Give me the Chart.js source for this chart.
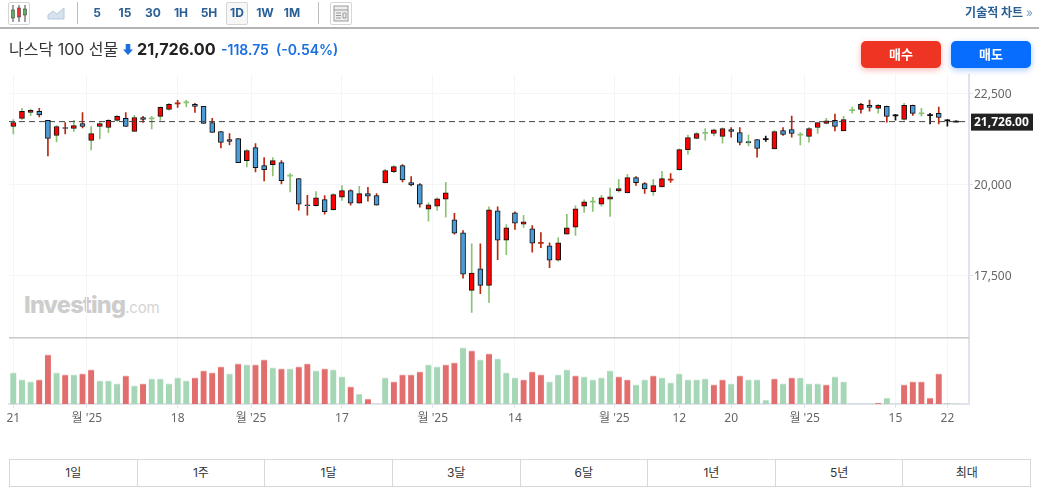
<!DOCTYPE html>
<html>
<head>
<meta charset="utf-8">
<script src="https://cdn.jsdelivr.net/npm/chart.js@4"></script>
<style>
html,body{margin:0;padding:0;background:#fff;overflow:hidden}
body{width:1039px;height:497px;position:relative;font-family:Inter,"Noto Sans CJK KR",sans-serif;color:#333}
#chart{position:absolute;left:0;top:0}
.abs{position:absolute;white-space:nowrap}
.bar{position:absolute;left:0;top:0;width:1039px;height:27px;border-bottom:2px solid #b4b4b4}
.sep{position:absolute;top:2px;width:1px;height:22px;background:#bdbdbd}
.iv{position:absolute;top:5px;width:24px;text-align:center;font-size:12px;font-weight:700;color:#2a5f95;line-height:16px}
.iconbox{position:absolute;top:2px;height:21px;border:1px solid #d6d6d6;border-radius:2px;box-sizing:content-box}
.btn{position:absolute;top:41px;width:80px;height:27px;border-radius:5px;color:#fff;font-size:13px;font-weight:700;text-align:center;line-height:27px}
#periods{position:absolute;left:9px;top:459px;width:1022px;height:28px;border:1px solid #d8d8d8;box-sizing:border-box;display:flex}
#periods div{flex:1;border-left:1px solid #d8d8d8;text-align:center;font-size:12px;line-height:26px;color:#333}
#periods div:first-child{border-left:0}
</style>
</head>
<body>
<div class="abs" style="left:24px;top:288px;color:#cdcdcd;font:800 23.5px Inter,sans-serif;letter-spacing:-.8px;line-height:34px">Investing<span style="font-weight:400;font-size:15px;letter-spacing:-.2px;color:#d4d4d4">.com</span></div>
<canvas id="chart" width="1039" height="440"></canvas>

<div class="bar">
  <div class="iconbox" style="left:8px;width:20px">
    <svg width="20" height="21" viewBox="0 0 20 21"><path d="M4 2v17M10 2v17M16 2v17" stroke="#444" stroke-width="1"/><rect x="2.5" y="7" width="3" height="8" fill="#5cb25c" stroke="#444" stroke-width=".6"/><rect x="8.5" y="5" width="3" height="9" fill="#e33" stroke="#444" stroke-width=".6"/><rect x="14.5" y="6" width="3" height="6" fill="#5cb25c" stroke="#444" stroke-width=".6"/></svg>
  </div>
  <svg class="abs" style="left:47px;top:6px" width="18" height="14" viewBox="0 0 18 14"><path d="M1 9L6 5l4 3 7-6v11H1z" fill="#d6e3ef" stroke="#b3c9dd" stroke-width="1"/></svg>
  <div class="sep" style="left:77px"></div>
  <div class="iv" style="left:85px">5</div>
  <div class="iv" style="left:113px">15</div>
  <div class="iv" style="left:141px">30</div>
  <div class="iv" style="left:169px">1H</div>
  <div class="iv" style="left:197px">5H</div>
  <div class="iconbox" style="left:226px;width:20px;background:#f7f7f7"></div>
  <div class="iv" style="left:225px">1D</div>
  <div class="iv" style="left:253px">1W</div>
  <div class="iv" style="left:280px">1M</div>
  <div class="sep" style="left:318px"></div>
  <div class="iconbox" style="left:330px;width:20px">
    <svg width="20" height="21" viewBox="0 0 20 21"><rect x="3" y="3" width="14" height="15" fill="#eee" stroke="#999"/><path d="M3 7h14M5 10h5M5 12.500h5M5 15h5M12 10h3v5h-3z" stroke="#999" fill="none"/></svg>
  </div>
  <div class="abs" style="right:6px;top:5px;font-size:12px;font-weight:700;color:#2a5f95;line-height:16px">기술적 차트 <span style="font-weight:400;color:#7f9cc0">»</span></div>
</div>

<div class="abs" style="left:9px;top:39px;font-size:16px;line-height:20px;color:#333">나스닥 100 선물</div>
<svg class="abs" style="left:123px;top:44px" width="10" height="11" viewBox="0 0 11 12"><path d="M3 0h5v6h3l-5.500 6L0 6h3z" fill="#1a6fe0"/></svg>
<div class="abs" style="left:137px;top:38px;font-size:16.2px;font-weight:700;line-height:22px;color:#222">21,726.00</div>
<div class="abs" style="left:221px;top:41px;font-size:14px;font-weight:600;line-height:18px;color:#1a6fe0">-118.75</div>
<div class="abs" style="left:276px;top:41px;font-size:14px;font-weight:600;line-height:18px;color:#1a6fe0">(-0.54%)</div>
<div class="btn" style="left:861px;background:#ee3524;box-shadow:0 2px 6px rgba(238,53,36,.35)">매수</div>
<div class="btn" style="left:951px;background:#066dff;box-shadow:0 2px 6px rgba(6,109,255,.35)">매도</div>

<div id="periods"><div>1일</div><div>1주</div><div>1달</div><div>3달</div><div>6달</div><div>1년</div><div>5년</div><div>최대</div></div>

<script>
// prices, one entry per session
const opens = [21593,21813,21977,22005,21758,21346,21565,21538,21675,21208,21593,21565,21758,21813,21456,21840,21813,21868,22060,22225,22252,22197,22142,21703,21456,21236,21263,20659,21016,20522,20549,20604,20247,20164,19450,19423,19588,19313,19660,19834,19495,19752,19697,20045,20356,20521,20054,19999,19330,19413,19605,19037,18680,17105,17691,17243,19285,18479,19230,18918,18790,18406,18323,17929,18644,18836,19413,19532,19468,19605,19825,19770,20191,20026,19807,19935,20137,20412,20961,21263,21419,21401,21318,21510,21428,21181,21236,21245,20979,21483,21510,21373,21318,21565,21675,21758,21474,22042,22060,22170,22087,22142,21895,21785,22170,21950,21904,21950,21758,21726];
const highs = [21785,22087,22069,22087,21758,21620,21703,21758,21977,21593,21703,21785,21895,21977,21895,21868,21868,22133,22225,22307,22307,22225,22142,21813,21456,21401,21263,20961,21126,20741,20741,20659,20302,20164,19707,19807,19697,19752,19971,19861,19953,19926,19752,20420,20521,20548,20219,20026,19504,19642,20063,19211,18744,18378,18378,19394,19394,18909,19257,19156,18882,18689,18406,18552,19184,19422,19587,19651,19706,19907,20145,20283,20219,20054,20145,20365,20302,20979,21355,21428,21538,21520,21556,21565,21565,21355,21236,21327,21483,21565,21877,21428,21565,21703,21813,21932,21868,22124,22225,22316,22197,22151,21923,22225,22179,22087,21950,22124,21785,21749];
const lows = [21391,21785,21886,21858,20787,21172,21391,21456,21556,20952,21254,21428,21730,21593,21456,21703,21529,21758,22042,22115,22133,21977,21675,21428,21007,21089,20604,20485,20348,20100,20238,20018,19798,19304,19166,19413,19194,19304,19568,19440,19495,19550,19440,20045,20328,20072,19962,19385,19001,19294,19111,18644,17435,16501,17014,16776,17948,18085,18772,18827,18149,18277,17728,17902,18644,18607,19239,19266,19413,19129,19797,19770,19981,19761,19706,19935,20064,20393,20833,21254,21217,21336,21135,21300,21089,21062,20750,21181,20979,21346,21300,21089,21163,21401,21666,21474,21474,21959,21959,22014,21959,21712,21767,21767,21895,21877,21666,21666,21602,21726];
const closes = [21703,22005,22032,21913,21263,21593,21538,21620,21593,21401,21675,21758,21868,21593,21840,21785,21813,22115,22197,22225,22252,22142,21675,21428,21153,21181,20604,20934,20467,20412,20659,20109,20247,19468,19423,19642,19258,19725,19834,19495,19752,19687,19440,20383,20493,20127,19990,19468,19449,19614,19779,18671,17545,17581,17243,19312,18479,18818,18946,18982,18396,18406,17929,18406,18818,19340,19532,19532,19642,19669,19889,20191,20054,19880,19971,20164,20137,20961,21291,21401,21419,21501,21538,21456,21153,21144,20989,21245,21456,21373,21401,21373,21538,21703,21749,21593,21785,22042,22197,22115,22170,21868,21895,22170,21950,21950,21904,21840,21758,21726];
// wick colour of each session: g, r or k
const wickSides = "gggrrgrgrggggrgrgggrgrrrrrrgrrgrgrrgrggrgrrggrrrgggrrgrgrgrgrrrgggggggggrrggrggggggrrgrkgrrggggrggrrgrkgrgkrkk".split("");
const volumes = [93,72,66,72,147,93,87,87,90,102,69,69,60,84,54,60,75,75,60,78,69,78,99,93,111,90,120,117,117,132,108,105,105,111,120,99,105,102,81,51,30,15,0,78,66,87,87,96,117,111,117,123,168,159,132,150,135,93,78,72,96,87,66,87,102,84,81,72,78,99,81,72,57,72,84,78,63,90,72,72,75,57,72,60,84,72,72,12,75,60,78,78,60,60,57,81,66,0,0,0,3,18,0,57,66,66,18,90,3,0];
const volumeSides = "gggrrgrgrrgggrgrgggggrrrrgrgrrgrgrrgrggrgrggrrrrggrrgrgrgggrrrgggrggggrrggrggggggrrgrgggrgrgggrg".split("").concat("g,g,g,g,r,g,g,r,r,r,r,r,g".split(","));
const lastClose = 21726;
const priceTicks = [17500, 20000, 22500];
const tickSpots = [0, 8.5, 19, 27.5, 38, 48.5, 58, 69.5, 77, 83, 91.5, 102, 108];
const tickLabels = ["21", "월 '25", "18", "월 '25", "17", "월 '25", "14", "월 '25", "12", "20", "월 '25", "15", "22"];

const WICK = {g: "#8cc274", r: "#b8290f", k: "#111111"};
const FONT = "'Noto Sans','Noto Sans CJK KR',sans-serif";
const sessions = closes.map((c, i) => i);
const isDoji = i => opens[i] === closes[i];

const lastPrice = {
    id: "lastPrice",
    afterDraw(chart) {
        const {ctx, chartArea, scales} = chart;
        const y = scales.y.getPixelForValue(lastClose);
        ctx.save();
        ctx.strokeStyle = "#c8c8c8";
        ctx.lineWidth = 1.5;
        ctx.beginPath();
        ctx.moveTo(chartArea.left, scales.yVol.top);
        ctx.lineTo(chartArea.right, scales.yVol.top);
        ctx.stroke();
        ctx.strokeStyle = "#444";
        ctx.lineWidth = 1;
        ctx.setLineDash([6, 4]);
        ctx.beginPath();
        ctx.moveTo(chartArea.left, y);
        ctx.lineTo(chartArea.right, y);
        ctx.stroke();
        ctx.setLineDash([]);
        ctx.fillStyle = "#222";
        ctx.fillRect(chartArea.right + 2, y - 8, 62, 17);
        ctx.fillStyle = "#fff";
        ctx.font = "700 12px " + FONT;
        ctx.textBaseline = "middle";
        ctx.fillText("21,726.00", chartArea.right + 5, y + 1);
        ctx.restore();
    }
};

new Chart(document.getElementById("chart"), {
    data: {
        datasets: [{
            type: "bar",
            yAxisID: "y",
            label: "wick",
            data: sessions.map(i => ({x: i, y: [lows[i], highs[i]]})),
            backgroundColor: wickSides.map(s => WICK[s]),
            barThickness: 1,
            order: 3
        }, {
            type: "bar",
            yAxisID: "y",
            label: "body",
            data: sessions.map(i => ({x: i, y: isDoji(i) ? null : [Math.min(opens[i], closes[i]), Math.max(opens[i], closes[i])]})),
            backgroundColor: sessions.map(i => closes[i] > opens[i] ? "#ff0000" : "#4a9bd6"),
            borderColor: "#111",
            borderWidth: 1,
            borderSkipped: false,
            barThickness: 5,
            order: 2
        }, {
            type: "bar",
            yAxisID: "y",
            label: "doji",
            data: sessions.map(i => ({x: i, y: isDoji(i) ? [closes[i] - 15, closes[i] + 15] : null})),
            backgroundColor: wickSides.map(s => WICK[s]),
            barThickness: 5,
            order: 1
        }, {
            type: "bar",
            yAxisID: "yVol",
            label: "volume",
            data: sessions.map(i => ({x: i, y: volumes[i]})),
            backgroundColor: volumeSides.map(s => s === "g" ? "#a5d6b5" : "#e26d6d"),
            borderColor: volumeSides.map(s => s === "g" ? "#c9e6d2" : "#eeaaaa"),
            borderWidth: {top: 1},
            barThickness: 6,
            order: 4
        }]
    },
    options: {
        responsive: false,
        animation: false,
        layout: {padding: {left: 9, top: 75, right: 0, bottom: 0}},
        plugins: {legend: {display: false}, tooltip: {enabled: false}},
        datasets: {bar: {grouped: false}},
        scales: {
            x: {
                type: "linear",
                offset: false,
                min: -0.5,
                max: 110.5,
                grid: {offset: false, color: "#f4f5f7", tickColor: "#e0e3eb", tickLength: 4},
                border: {color: "#e0e3eb", width: 2},
                afterBuildTicks: axis => { axis.ticks = tickSpots.map(v => ({value: v})); },
                ticks: {
                    autoSkip: false,
                    maxRotation: 0,
                    color: "#666",
                    padding: 3,
                    font: {size: 12, family: FONT},
                    callback: (v, i) => tickLabels[i]
                },
                afterFit: axis => { axis.height = 36; }
            },
            y: {
                position: "right",
                stack: "panes",
                stackWeight: 262,
                min: 15805,
                max: 23003,
                grid: {color: "#f4f5f7", tickColor: "#e0e3eb", tickLength: 4},
                border: {color: "#e0e3eb", width: 2},
                afterBuildTicks: axis => { axis.ticks = priceTicks.map(v => ({value: v})); },
                ticks: {
                    color: "#666",
                    padding: 1,
                    labelOffset: 1,
                    font: {size: 12, family: FONT},
                    callback: v => v.toLocaleString("en-US")
                },
                afterFit: axis => { axis.width = 70; }
            },
            yVol: {
                position: "right",
                stack: "panes",
                stackWeight: 66,
                min: 0,
                max: 198,
                grid: {display: false},
                border: {color: "#e0e3eb", width: 2},
                ticks: {display: false},
                afterFit: axis => { axis.width = 70; }
            }
        }
    },
    plugins: [lastPrice]
});
</script>
</body>
</html>
